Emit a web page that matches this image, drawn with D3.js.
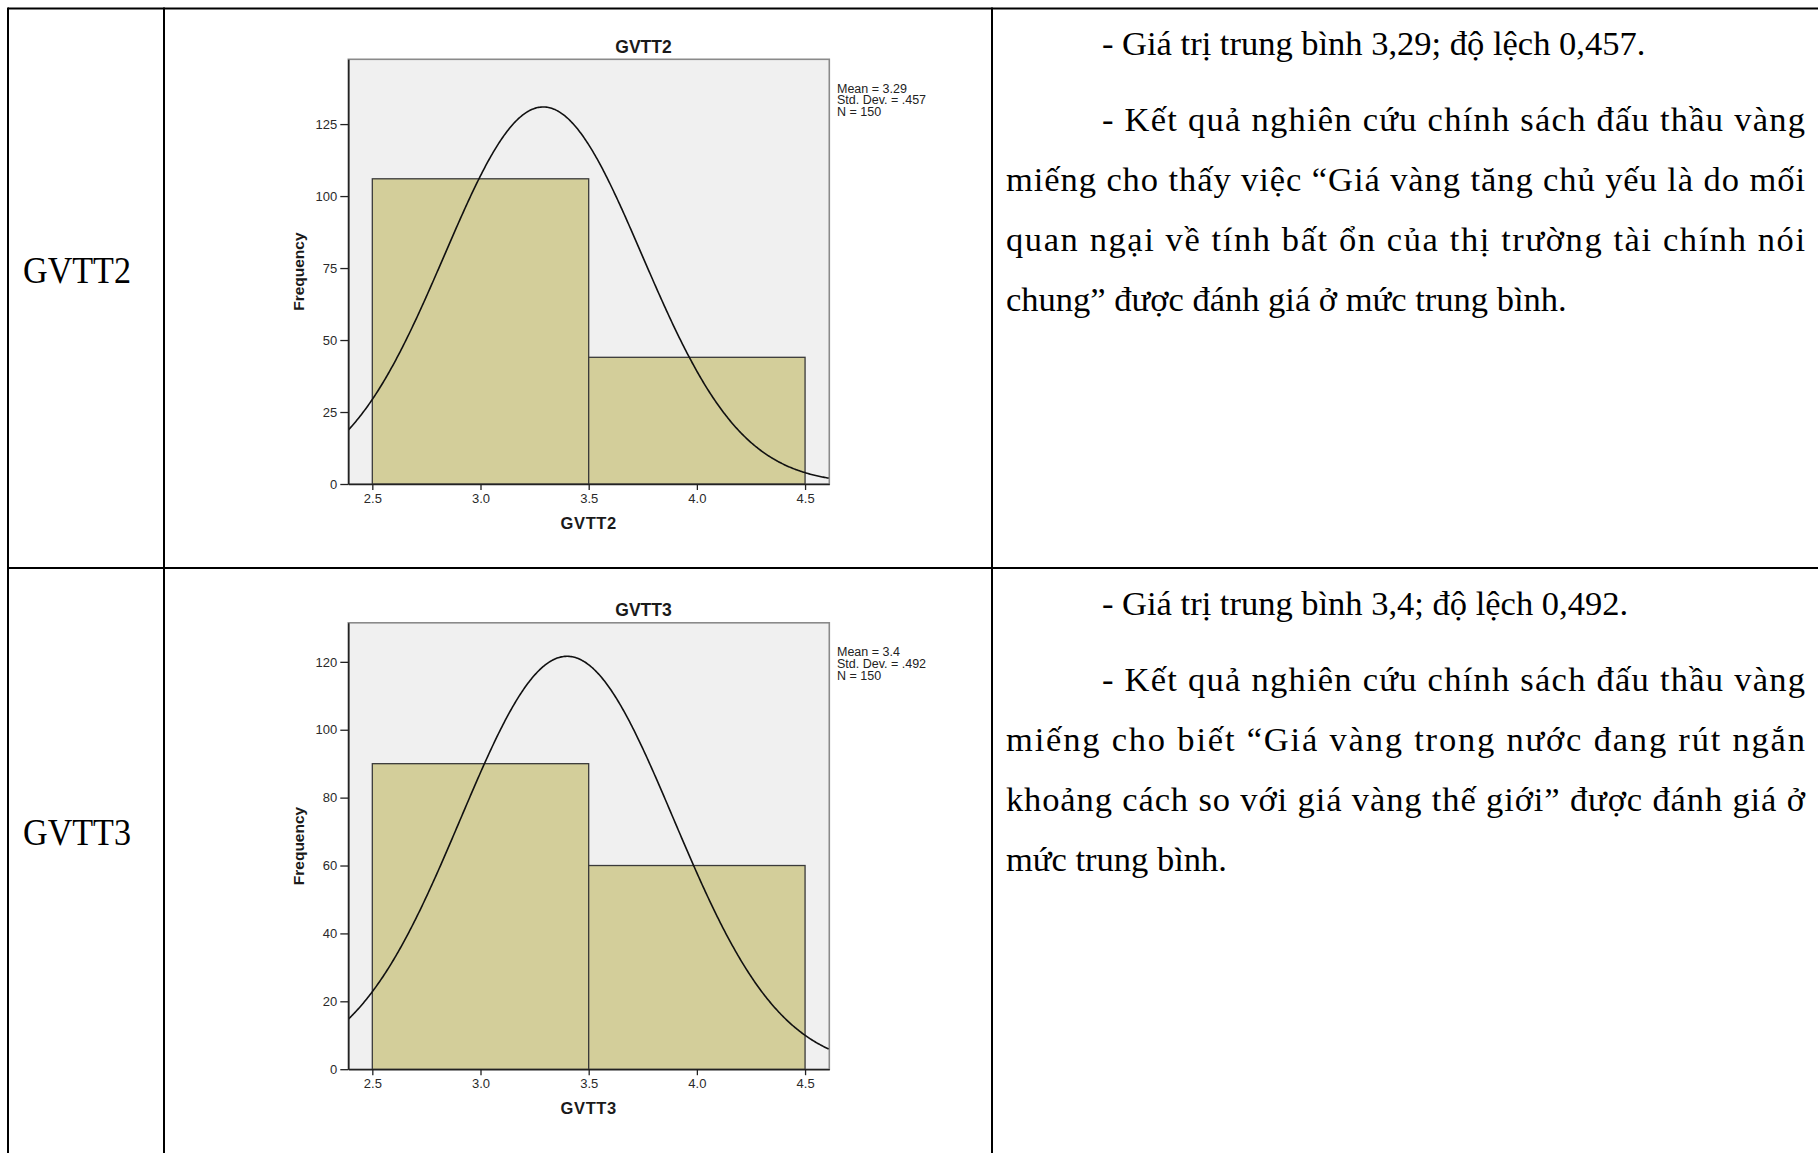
<!DOCTYPE html>
<html>
<head>
<meta charset="utf-8">
<script src="https://cdn.jsdelivr.net/npm/d3@7"></script>
<style>
  body { margin: 0; background: #fff; }
  svg { display: block; }
</style>
</head>
<body>
<div id="page"></div>
<script>
// Histogram data
const variables = ["GVTT2", "GVTT3"];
const binEdges = [2.5, 3.5, 4.5];
const binCounts = [[106, 44], [90, 60]];
const means = [3.29, 3.4];
const stdDevs = [0.457, 0.492];
const nValues = [150, 150];
const xTicks = [2.5, 3.0, 3.5, 4.0, 4.5];
const yTicks = [[0, 25, 50, 75, 100, 125], [0, 20, 40, 60, 80, 100, 120]];
const yMaxes = [147.5, 131.5];
const xExtent = [2.389, 4.612];

// Text in the right hand column of the table
const rowTexts = [
  [
    { t: "- Giá trị trung bình 3,29; độ lệch 0,457.", indent: true, justify: false },
    { t: "- Kết quả nghiên cứu chính sách đấu thầu vàng", indent: true, justify: true, gap: true },
    { t: "miếng cho thấy việc “Giá vàng tăng chủ yếu là do mối", indent: false, justify: true },
    { t: "quan ngại về tính bất ổn của thị trường tài chính nói", indent: false, justify: true },
    { t: "chung” được đánh giá ở mức trung bình.", indent: false, justify: false }
  ],
  [
    { t: "- Giá trị trung bình 3,4; độ lệch 0,492.", indent: true, justify: false },
    { t: "- Kết quả nghiên cứu chính sách đấu thầu vàng", indent: true, justify: true, gap: true },
    { t: "miếng cho biết “Giá vàng trong nước đang rút ngắn", indent: false, justify: true },
    { t: "khoảng cách so với giá vàng thế giới” được đánh giá ở", indent: false, justify: true },
    { t: "mức trung bình.", indent: false, justify: false }
  ]
];

const W = 1818, H = 1153;
const svg = d3.select("#page").append("svg")
  .attr("width", W)
  .attr("height", H);

svg.append("rect").attr("width", W).attr("height", H).attr("fill", "#fff");

// table layout
const rowTops = [8.5, 568];
const colX = [8, 164, 992];
const textLeft = 1006, textIndent = 1102, textRight = 1805;

// table grid lines
const grid = svg.append("g").attr("stroke", "#000").attr("stroke-width", 2);
grid.append("line").attr("x1", colX[0]).attr("x2", W).attr("y1", rowTops[0]).attr("y2", rowTops[0]);
grid.append("line").attr("x1", colX[0]).attr("x2", W).attr("y1", rowTops[1]).attr("y2", rowTops[1]);
colX.forEach(x => {
  grid.append("line").attr("x1", x).attr("x2", x).attr("y1", rowTops[0] - 1).attr("y2", H);
});

// chart frame positions
const frameX = [348.3, 829.3];
const frameTops = [59.3, 622.8];
const frameBottoms = [484, 1069.2];
const labelBaselines = [283, 844.5];

variables.forEach((name, i) => {
  // first column label
  svg.append("text")
    .attr("x", 23)
    .attr("y", labelBaselines[i])
    .attr("textLength", 108)
    .attr("lengthAdjust", "spacingAndGlyphs")
    .style("font-family", "'Liberation Serif', 'Times New Roman', serif")
    .style("font-size", "38px")
    .text(name);

  drawHistogram(i);

  // right column paragraph text
  let y = rowTops[i] + 46.5;
  rowTexts[i].forEach((line, k) => {
    if (k > 0) y += line.gap ? 76 : 60;
    const x0 = line.indent ? textIndent : textLeft;
    const txt = svg.append("text")
      .attr("x", x0)
      .attr("y", y)
      .style("font-family", "'Liberation Serif', 'Times New Roman', serif")
      .style("font-size", "34.5px")
      .attr("fill", "#000")
      .text(line.t);
    if (line.justify) {
      txt.attr("textLength", textRight - x0).attr("lengthAdjust", "spacing");
    }
  });
});

function drawHistogram(i) {
  const top = frameTops[i], bottom = frameBottoms[i];
  const x = d3.scaleLinear().domain(xExtent).range(frameX);
  const y = d3.scaleLinear().domain([0, yMaxes[i]]).range([bottom, top]);
  const g = svg.append("g");

  // plot background
  g.append("rect")
    .attr("x", frameX[0]).attr("y", top)
    .attr("width", frameX[1] - frameX[0]).attr("height", bottom - top)
    .attr("fill", "#f0f0f0")
    .attr("stroke", "#8a8a8a")
    .attr("stroke-width", 1.6);

  // bars
  const bins = binCounts[i].map((c, k) => ({ x0: binEdges[k], x1: binEdges[k + 1], count: c }));
  g.selectAll(".bar").data(bins).enter().append("rect")
    .attr("class", "bar")
    .attr("x", d => x(d.x0))
    .attr("y", d => y(d.count))
    .attr("width", d => x(d.x1) - x(d.x0))
    .attr("height", d => y(0) - y(d.count))
    .attr("fill", "#d3ce9a")
    .attr("stroke", "#3a3a3a")
    .attr("stroke-width", 1.3);

  // normal curve from mean / std dev / N (bin width 1)
  const mu = means[i], sd = stdDevs[i], n = nValues[i];
  const binW = binEdges[1] - binEdges[0];
  const dens = v => n * binW / (sd * Math.sqrt(2 * Math.PI)) * Math.exp(-0.5 * Math.pow((v - mu) / sd, 2));
  const pts = d3.range(xExtent[0], xExtent[1] + 0.001, 0.005).map(v => [v, dens(v)]);

  const clipId = "clip" + i;
  svg.append("clipPath").attr("id", clipId)
    .append("rect")
    .attr("x", frameX[0]).attr("y", top)
    .attr("width", frameX[1] - frameX[0]).attr("height", bottom - top);

  g.append("path")
    .datum(pts)
    .attr("clip-path", "url(#" + clipId + ")")
    .attr("fill", "none")
    .attr("stroke", "#111")
    .attr("stroke-width", 1.6)
    .attr("d", d3.line().x(d => x(d[0])).y(d => y(d[1])));

  // axes
  const yAxis = g.append("g")
    .attr("transform", `translate(${frameX[0]},0)`)
    .call(d3.axisLeft(y).tickValues(yTicks[i]).tickSize(8).tickSizeOuter(0).tickPadding(3).tickFormat(d3.format("d")));
  const xAxis = g.append("g")
    .attr("transform", `translate(0,${bottom})`)
    .call(d3.axisBottom(x).tickValues(xTicks).tickSize(6).tickSizeOuter(0).tickPadding(3.5).tickFormat(d3.format(".1f")));

  [yAxis, xAxis].forEach(a => {
    a.select(".domain").attr("stroke", "#222").attr("stroke-width", 1.6);
    a.selectAll(".tick line").attr("stroke", "#222").attr("stroke-width", 1.3);
    a.selectAll(".tick text")
      .attr("fill", "#2a2a2a")
      .style("font-family", "'Liberation Sans', Arial, sans-serif")
      .style("font-size", "13px");
  });

  // chart title
  g.append("text")
    .attr("x", 643.5)
    .attr("y", top - 6.5)
    .attr("text-anchor", "middle")
    .style("font-family", "'Liberation Sans', Arial, sans-serif")
    .style("font-weight", "bold")
    .style("font-size", "17.5px")
    .attr("fill", "#1a1a1a")
    .text(variables[i]);

  // x axis title
  g.append("text")
    .attr("x", x(3.5))
    .attr("y", bottom + 45)
    .attr("text-anchor", "middle")
    .style("font-family", "'Liberation Sans', Arial, sans-serif")
    .style("font-weight", "bold")
    .style("font-size", "16.5px")
    .style("letter-spacing", "0.6px")
    .attr("fill", "#1a1a1a")
    .text(variables[i]);

  // y axis title
  g.append("text")
    .attr("transform", `translate(303.5,${(top + bottom) / 2}) rotate(-90)`)
    .attr("text-anchor", "middle")
    .style("font-family", "'Liberation Sans', Arial, sans-serif")
    .style("font-weight", "bold")
    .style("font-size", "15.5px")
    .attr("fill", "#1a1a1a")
    .text("Frequency");

  // stats legend
  const sdLabel = String(sd).replace(/^0/, "");
  const legendLines = ["Mean = " + mu, "Std. Dev. = " + sdLabel, "N = " + n];
  g.selectAll(".legend").data(legendLines).enter().append("text")
    .attr("class", "legend")
    .attr("x", 837)
    .attr("y", (d, k) => top + 33.5 + k * 11.6)
    .style("font-family", "'Liberation Sans', Arial, sans-serif")
    .style("font-size", "12.5px")
    .attr("fill", "#222")
    .text(d => d);
}
</script>
</body>
</html>
